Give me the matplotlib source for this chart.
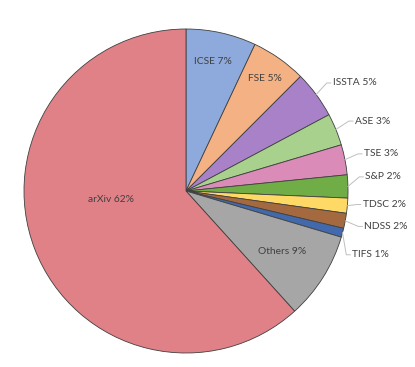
import numpy as np
import matplotlib
matplotlib.use("Agg")
import matplotlib.pyplot as plt

# datos (porcentajes estimados del grafico)
venues = ["ICSE", "FSE", "ISSTA", "ASE", "TSE", "S&P", "TDSC", "NDSS", "TIFS", "Others", "arXiv"]
shares = [7.0, 5.5, 4.7, 3.2, 3.0, 2.3, 1.5, 1.5, 0.9, 8.7, 61.7]
pct_labels = ["7%", "5%", "5%", "3%", "3%", "2%", "2%", "2%", "1%", "9%", "62%"]
colors = ["#8EA9DB", "#F4B183", "#A881C8", "#A9D18E", "#DA8BB8", "#70AD47",
          "#FFD966", "#A5693F", "#4169AB", "#A6A6A6", "#E08187"]
inside = [True, True, False, False, False, False, False, False, False, True, True]

# layout
W, H = 415, 367
cx, cy, R = 186, 191, 162          # centro y radio en pixeles
r_in = [0.82, 0.85, 0, 0, 0, 0, 0, 0, 0, 0.70, 0.46]
r_out = 1.12
nudge = [(-2, 0), (0, 0), (1, 0), (1, -1), (0, -2), (-2, -9), (-4, -3),
         (0, 2), (-9, 17), (0, 0), (-5, -18)]   # px (dx, dy hacia abajo)

plt.rcParams['font.family'] = ['Lato', 'DejaVu Sans']
fig = plt.figure(figsize=(W / 100, H / 100), dpi=100)
ax = fig.add_axes([0, 0, 1, 1])

wedges, _ = ax.pie(shares, colors=colors, startangle=90, counterclock=False,
                   radius=1, wedgeprops=dict(edgecolor="#404040", linewidth=0.6))
ax.set_aspect("auto")
ax.set_xlim(-cx / R, (W - cx) / R)
ax.set_ylim(-(H - cy) / R, cy / R)
ax.axis("off")

txtcol = "#404040"
fs = 7.4
for i, w in enumerate(wedges):
    ang = np.deg2rad((w.theta1 + w.theta2) / 2)
    ux, uy = np.cos(ang), np.sin(ang)
    dx, dy = nudge[i][0] / R, -nudge[i][1] / R
    label = venues[i] + " " + pct_labels[i]
    if inside[i]:
        ax.text(r_in[i] * ux + dx, r_in[i] * uy + dy, label, ha="center", va="center",
                fontsize=fs, color=txtcol)
    else:
        tx, ty = r_out * ux + dx, r_out * uy + dy
        ax.text(tx, ty, label, ha="left", va="center", fontsize=fs, color=txtcol)
        ax.plot([ux, tx - 6 / R, tx - 2 / R], [uy, ty, ty], color="#BFBFBF", lw=0.7)

plt.savefig("out.png", dpi=100)
